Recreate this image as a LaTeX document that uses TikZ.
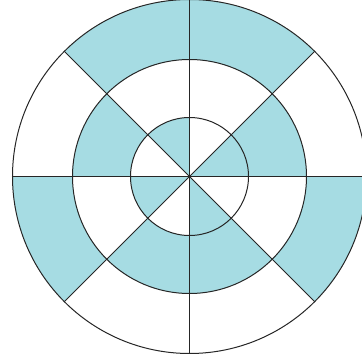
\documentclass[tikz,border=0pt]{standalone}
\usepackage{tikz}

\definecolor{wheelblue}{RGB}{166,220,227}
\tikzset{
  ring/.style={line width=1pt, draw=black!85},
  spoke/.style={line width=1pt, draw=black!85},
}

\begin{document}
\begin{tikzpicture}[x=1pt,y=1pt]
    \useasboundingbox (-189.5,-184.5) rectangle (172.5,176.5);
    \clip (-189.5,-184.5) rectangle (172.5,176.5);

    % outer ring, radii 117 to 177
    \foreach \a in {45,90,180,315}
      \fill[wheelblue] (\a:117) -- (\a:177) arc[start angle=\a, end angle=\a+45, radius=177]
        -- (\a+45:117) arc[start angle=\a+45, end angle=\a, radius=117] -- cycle;

    % middle ring, radii 59 to 117
    \foreach \a in {0,135,225,270}
      \fill[wheelblue] (\a:59) -- (\a:117) arc[start angle=\a, end angle=\a+45, radius=117]
        -- (\a+45:59) arc[start angle=\a+45, end angle=\a, radius=59] -- cycle;

    % inner disc
    \foreach \a in {0,90,180,270}
      \fill[wheelblue] (0,0) -- (\a:59) arc[start angle=\a, end angle=\a+45, radius=59] -- cycle;

    \draw[ring] (0,0) circle (177);
    \draw[ring] (0,0) circle (117);
    \draw[ring] (0,0) circle (59);

    \draw[spoke] (0:177) -- (180:177);
    \draw[spoke] (90:177) -- (270:177);
    \draw[spoke] (45:177) -- (225:177);
    \draw[spoke] (135:177) -- (315:177);
\end{tikzpicture}
\end{document}
